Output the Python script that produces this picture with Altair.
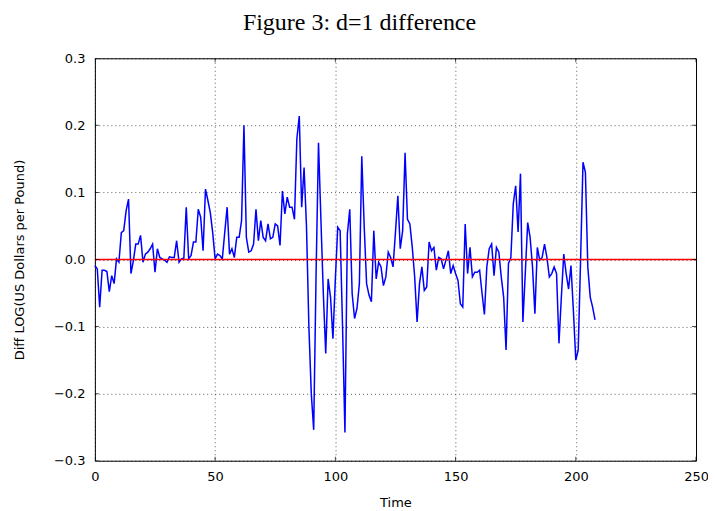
import altair as alt
import pandas as pd

# Differenced log series (index 0..208)
diff_values = [
    -0.009, -0.014, -0.071, -0.016, -0.016, -0.018, -0.048, -0.024, -0.036, 0.001,
    -0.004, 0.040, 0.043, 0.073, 0.090, -0.021, -0.002, 0.023, 0.023, 0.036,
    -0.004, 0.008, 0.011, 0.016, 0.023, -0.019, 0.016, 0.003, 0.001, -0.001,
    -0.004, 0.004, 0.003, 0.003, 0.028, -0.004, 0.001, 0.002, 0.078, 0.001,
    0.006, 0.026, 0.026, 0.075, 0.063, 0.013, 0.105, 0.088, 0.070, 0.040,
    0.001, 0.008, 0.006, 0.001, 0.040, 0.078, 0.008, 0.016, 0.003, 0.033,
    0.033, 0.058, 0.200, 0.033, 0.011, 0.013, 0.023, 0.075, 0.028, 0.058,
    0.033, 0.028, 0.053, 0.031, 0.033, 0.053, 0.050, 0.021, 0.102, 0.068,
    0.093, 0.078, 0.078, 0.060, 0.180, 0.214, 0.078, 0.137, 0.050, -0.100,
    -0.200, -0.254, -0.020, 0.174, 0.060, -0.050, -0.140, -0.029, -0.056, -0.118,
    -0.030, 0.048, 0.043, -0.100, -0.258, 0.038, 0.075, -0.051, -0.088, -0.073,
    -0.036, 0.154, 0.050, -0.036, -0.053, -0.063, 0.043, -0.029, -0.004, -0.011,
    -0.039, -0.026, 0.011, 0.003, -0.011, 0.040, 0.095, 0.016, 0.043, 0.159,
    0.060, 0.053, 0.018, -0.026, -0.093, -0.036, -0.011, -0.046, -0.041, 0.026,
    0.013, 0.018, -0.016, 0.003, 0.001, -0.014, -0.001, 0.013, -0.021, -0.009,
    -0.021, -0.031, -0.066, -0.071, 0.053, -0.021, 0.018, -0.026, -0.019, -0.019,
    -0.016, -0.050, -0.082, -0.011, 0.016, 0.023, -0.024, 0.018, 0.011, -0.026,
    -0.056, -0.135, -0.006, 0.003, 0.083, 0.110, 0.041, 0.128, -0.093, -0.020,
    0.055, 0.033, -0.011, -0.081, 0.018, -0.001, 0.003, 0.023, 0.003, -0.026,
    -0.021, -0.011, -0.021, -0.125, -0.056, 0.008, -0.021, -0.044, -0.009, -0.076,
    -0.150, -0.135, 0.000, 0.145, 0.130, -0.011, -0.056, -0.071, -0.090,
]
time_index = list(range(len(diff_values)))

x_ticks = [0, 50, 100, 150, 200, 250]
y_ticks = [-0.3, -0.2, -0.1, 0.0, 0.1, 0.2, 0.3]
x_domain = [0, 250]
y_domain = [-0.3, 0.3]
zero_level = [0.0]

df = pd.DataFrame({"t": time_index, "v": diff_values})
xt = pd.DataFrame({"x": x_ticks})
yt = pd.DataFrame({"y": y_ticks})
zl = pd.DataFrame({"y": zero_level})

xs = alt.Scale(domain=x_domain, nice=False, zero=False)
ys = alt.Scale(domain=y_domain, nice=False, zero=False)

line = alt.Chart(df).mark_line(color="#0000ff", strokeWidth=1.5).encode(
    x=alt.X("t:Q", scale=xs,
            axis=alt.Axis(values=x_ticks, title="Time", format="d")),
    y=alt.Y("v:Q", scale=ys,
            axis=alt.Axis(values=y_ticks, title="Diff LOG(US Dollars per Pound)",
                          format=".1f")),
)

zero = alt.Chart(zl).mark_rule(color="#ff0000", strokeWidth=1.5).encode(
    y=alt.Y("y:Q", scale=ys)
)

def xtick(yv):
    return alt.Chart(xt).mark_tick(color="black", size=8, thickness=1,
                                   orient="vertical", clip=True).encode(
        x=alt.X("x:Q", scale=xs), y=alt.YDatum(yv)
    )

def ytick(xv):
    return alt.Chart(yt).mark_tick(color="black", size=8, thickness=1,
                                   orient="horizontal", clip=True).encode(
        y=alt.Y("y:Q", scale=ys), x=alt.XDatum(xv)
    )

chart = alt.layer(
    line, zero,
    xtick(y_domain[0]), xtick(y_domain[1]),
    ytick(x_domain[0]), ytick(x_domain[1]),
).properties(
    width=602, height=403,
    title=alt.Title("Figure 3: d=1 difference", font="Liberation Serif",
                    fontSize=24, fontWeight="normal", color="black",
                    anchor="middle", dx=-36, offset=17),
    autosize=alt.AutoSizeParams(type="none"),
    padding={"left": 87, "top": 50, "right": 12, "bottom": 52},
).configure_view(
    stroke="black", strokeWidth=1
).configure_axis(
    domain=False, ticks=False, grid=True, labelFlush=False,
    gridColor="#000000", gridDash=[1, 3], gridWidth=0.8, gridOpacity=0.8,
    labelFont="DejaVu Sans", labelFontSize=13, labelColor="black",
    titleFont="DejaVu Sans", titleFontSize=13, titleColor="black",
    titleFontWeight="normal",
).configure_axisX(
    labelPadding=10, titlePadding=13
).configure_axisY(
    labelPadding=10, titlePadding=27
)

chart.save("out.html", embed_options={"renderer": "svg", "actions": False})
